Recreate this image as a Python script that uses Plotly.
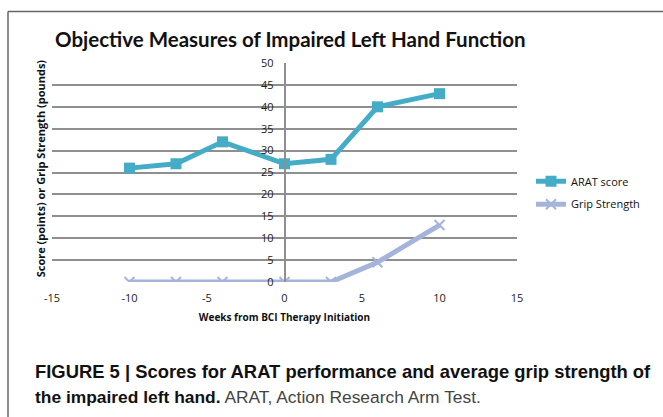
import plotly.graph_objects as go

weeks = [-10, -7, -4, 0, 3, 6, 10]
arat_score = [26, 27, 32, 27, 28, 40, 43]
grip_strength = [0, 0, 0, 0, 0, 4.5, 13]
y_ticks = [0, 5, 10, 15, 20, 25, 30, 35, 40, 45, 50]
x_ticks = [-15, -10, -5, 0, 5, 10, 15]
x_tick_labels = ["-15", "-10", "-5", "0", "5", "10", "15"]

W, H = 663, 417
L, R, T, B = 52, 517, 62.5, 282


def px(xp):
    return (xp - L) / (R - L)


def py(yp):
    return 1 - (yp - T) / (B - T)


fig = go.Figure()
fig.add_trace(go.Scatter(
    x=weeks, y=arat_score, name="ARAT score", mode="lines+markers",
    line=dict(color="#45acc8", width=5),
    marker=dict(symbol="square", size=11, color="#45acc8"),
    legend="legend",
))
fig.add_trace(go.Scatter(
    x=weeks, y=grip_strength, name="Grip Strength", mode="lines+markers",
    line=dict(color="#a4b4da", width=5),
    marker=dict(symbol="x-thin", size=10, color="#a4b4da",
                line=dict(color="#a4b4da", width=2)),
    legend="legend2",
))

grid_col = "#8f8f8f"
fig.update_layout(
    width=W, height=H,
    margin=dict(l=L, r=W - R, t=T, b=H - B, pad=0),
    paper_bgcolor="white", plot_bgcolor="white",
    font=dict(family="Lato, Open Sans, sans-serif", color="#111"),
    title=dict(text="<b>Objective Measures of Impaired Left Hand Function</b>",
               font=dict(family="Lato", size=20.5, color="#111"),
               x=55 / W, xanchor="left", y=1 - 40 / H, yanchor="middle"),
    xaxis=dict(range=[-15, 15], tickvals=x_ticks, ticktext=x_tick_labels,
               showgrid=False, zeroline=False, showline=False, ticks="",
               ticklabelstandoff=8,
               tickfont=dict(family="Open Sans", size=11, color="#222"),
               title=dict(text="<b>Weeks from BCI Therapy Initiation</b>",
                          font=dict(family="Open Sans", size=10, color="#111"),
                          standoff=9),
               fixedrange=True),
    yaxis=dict(range=[0, 50], tickvals=y_ticks, showgrid=True,
               gridcolor=grid_col, gridwidth=2, zeroline=False,
               showline=True, linecolor=grid_col, linewidth=1.5,
               anchor="free", position=0.5, ticks="outside", ticklen=0,
               ticklabelstandoff=8,
               tickfont=dict(family="Open Sans", size=11, color="#222"),
               fixedrange=True),
    legend=dict(x=px(531), y=py(181),
                xanchor="left", yanchor="middle", bgcolor="rgba(0,0,0,0)",
                font=dict(family="Open Sans", size=11, color="#111")),
    legend2=dict(x=px(531), y=py(204),
                 xanchor="left", yanchor="middle", bgcolor="rgba(0,0,0,0)",
                 font=dict(family="Open Sans", size=11, color="#111")),
    showlegend=True,
)

# y axis title (rotated)
fig.add_annotation(
    text="<b>Score (points) or Grip Strength (pounds)</b>",
    xref="paper", yref="paper", x=px(40), y=py(168),
    textangle=-90, showarrow=False, xanchor="center", yanchor="middle",
    font=dict(family="Open Sans", size=11, color="#111"),
)

# Caption
fig.add_annotation(
    text="<b>FIGURE 5 | Scores for ARAT performance and average grip strength of</b>",
    xref="paper", yref="paper", x=px(33), y=py(372),
    showarrow=False, xanchor="left", yanchor="middle",
    font=dict(family="Liberation Sans", size=18.4, color="#111"),
)
fig.add_annotation(
    text="<b>the impaired left hand.</b><span style='color:#444'> ARAT, Action Research Arm Test.</span>",
    xref="paper", yref="paper", x=px(33), y=py(397),
    showarrow=False, xanchor="left", yanchor="middle",
    font=dict(family="Liberation Sans", size=17.4, color="#111"),
)

# Frame lines (left and top)
fig.add_shape(type="line", xref="paper", yref="paper",
              x0=px(8), x1=px(8), y0=py(11), y1=py(420),
              line=dict(color="#666", width=1.5))
fig.add_shape(type="line", xref="paper", yref="paper",
              x0=px(8), x1=px(665), y0=py(11), y1=py(11),
              line=dict(color="#666", width=1.5))

fig.write_html("out.html", config={"displayModeBar": False},
               post_script="document.body.style.margin='0';document.body.style.overflow='hidden';")
